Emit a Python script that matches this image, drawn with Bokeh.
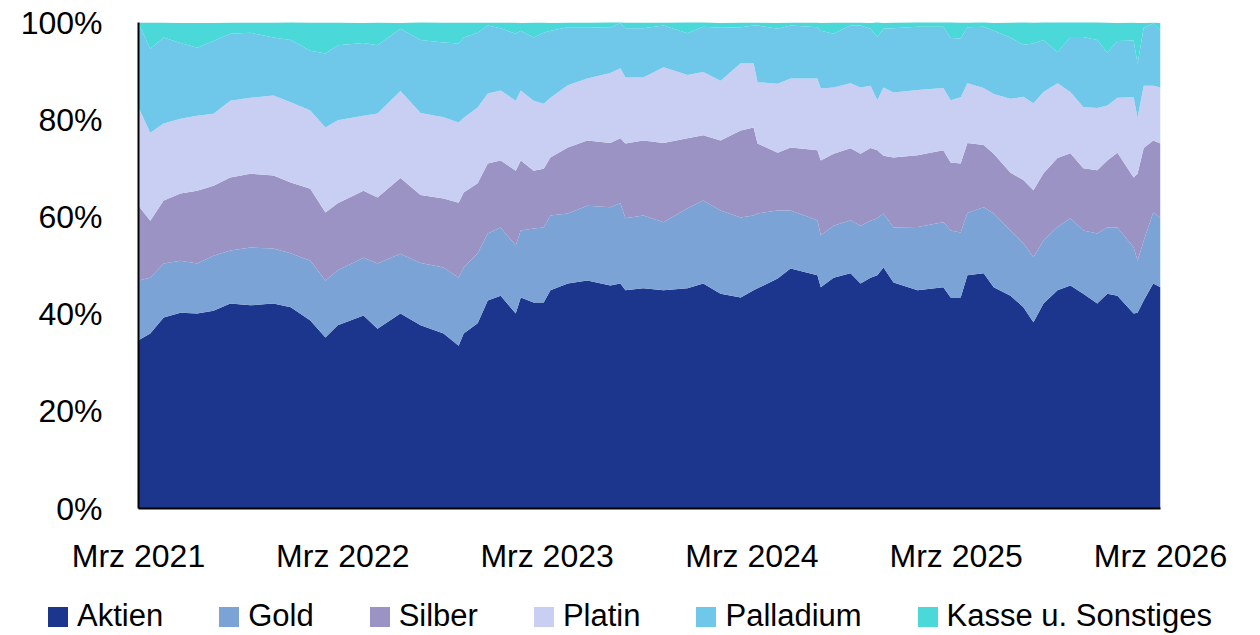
import pandas as pd
from bokeh.plotting import figure
from bokeh.models import (ColumnDataSource, Range1d, FixedTicker, Legend, LegendItem,
                          PrintfTickFormatter)
from bokeh.embed import file_html
from bokeh.resources import INLINE

# ---------------- data (shares in %) ----------------
dates = ["2021-03-01", "2021-03-22", "2021-04-15", "2021-05-15", "2021-06-14", "2021-07-13",
         "2021-08-12", "2021-09-17", "2021-10-28", "2021-11-28", "2022-01-02", "2022-01-29",
         "2022-02-20", "2022-04-07", "2022-05-02", "2022-06-12", "2022-07-18", "2022-08-28",
         "2022-09-24", "2022-10-03", "2022-10-28", "2022-11-15", "2022-12-08", "2023-01-04",
         "2023-01-13", "2023-02-05", "2023-02-23", "2023-03-07", "2023-04-07", "2023-05-12",
         "2023-06-22", "2023-07-10", "2023-07-19", "2023-08-20", "2023-09-25", "2023-11-07",
         "2023-12-05", "2024-01-05", "2024-02-10", "2024-03-04", "2024-03-11", "2024-04-16",
         "2024-05-09", "2024-06-26", "2024-07-02", "2024-07-25", "2024-08-24", "2024-09-11",
         "2024-09-29", "2024-10-11", "2024-10-22", "2024-11-09", "2024-12-22", "2025-02-06",
         "2025-02-19", "2025-03-09", "2025-03-21", "2025-04-19", "2025-05-07", "2025-06-06",
         "2025-06-29", "2025-07-17", "2025-08-04", "2025-08-29", "2025-09-21", "2025-10-14",
         "2025-11-08", "2025-11-26", "2025-12-14", "2026-01-12", "2026-01-19", "2026-01-30",
         "2026-02-16", "2026-03-01"]

aktien = [34.6, 36.0, 39.3, 40.3, 40.1, 40.7, 42.2, 41.8, 42.2, 41.4,
          38.7, 35.2, 37.7, 39.7, 37.0, 40.1, 37.7, 36.0, 33.5, 36.0,
          38.1, 42.8, 43.8, 40.1, 43.4, 42.4, 42.4, 44.9, 46.3, 46.9,
          45.9, 46.3, 44.9, 45.3, 44.9, 45.3, 46.3, 44.2, 43.4, 44.9,
          45.3, 47.3, 49.4, 48.0, 45.5, 47.5, 48.4, 46.3, 47.5, 48.0,
          49.6, 46.5, 44.9, 45.5, 43.4, 43.4, 48.0, 48.4, 45.5, 43.8,
          41.4, 38.3, 42.2, 44.9, 45.9, 44.2, 42.2, 44.2, 43.8, 40.1,
          40.3, 42.8, 46.3, 45.5]

gold = [12.3, 11.5, 11.1, 10.7, 10.3, 11.3, 10.9, 11.9, 11.3, 11.1,
        12.3, 11.7, 11.3, 11.9, 13.4, 12.3, 12.8, 13.6, 14.0, 13.6,
        14.4, 13.8, 14.0, 14.0, 13.8, 15.2, 15.4, 15.4, 14.4, 15.4,
        16.1, 16.5, 14.8, 15.0, 14.0, 16.5, 17.1, 17.1, 16.5, 15.4,
        15.4, 14.0, 11.9, 11.3, 10.7, 10.7, 10.9, 11.9, 11.7, 11.7,
        11.1, 11.3, 13.0, 13.4, 13.8, 13.4, 12.8, 13.6, 15.2, 13.4,
        13.2, 13.4, 13.0, 13.0, 13.8, 13.0, 14.4, 13.6, 14.0, 13.6,
        10.7, 12.3, 14.6, 14.2]

silber = [15.4, 11.7, 13.0, 13.8, 15.0, 14.4, 15.0, 15.2, 15.0, 14.6,
          14.8, 14.0, 13.8, 13.8, 13.6, 15.6, 14.0, 14.2, 15.4, 15.4,
          14.4, 14.4, 13.8, 15.4, 14.4, 11.9, 12.1, 11.9, 13.6, 13.4,
          13.2, 13.4, 15.4, 15.4, 16.3, 14.4, 13.4, 14.4, 17.9, 18.1,
          14.4, 11.9, 13.0, 14.4, 15.4, 14.8, 14.8, 14.8, 15.0, 14.0,
          11.9, 14.4, 14.8, 14.8, 14.0, 14.2, 14.4, 12.8, 12.3, 11.9,
          13.0, 13.8, 13.8, 14.2, 13.4, 12.8, 13.0, 13.8, 15.4, 14.4,
          17.9, 19.1, 14.8, 15.4]

platin = [20.2, 18.1, 15.8, 15.4, 15.4, 14.8, 15.8, 15.6, 16.5, 16.5,
          16.1, 17.5, 17.1, 15.4, 17.3, 17.9, 16.9, 16.7, 16.5, 15.4,
          15.6, 14.4, 14.4, 14.4, 14.4, 14.4, 13.4, 12.3, 12.8, 12.8,
          14.4, 14.4, 13.6, 13.0, 15.6, 13.0, 13.0, 12.3, 13.8, 13.2,
          12.6, 14.2, 14.2, 14.8, 14.8, 13.6, 13.4, 13.6, 12.8, 10.3,
          14.0, 13.4, 13.4, 12.8, 12.8, 13.6, 12.3, 11.7, 12.3, 15.2,
          17.1, 17.9, 16.7, 15.4, 12.6, 12.6, 12.8, 11.3, 11.3, 16.5,
          11.5, 12.8, 11.3, 11.5]

palladium = [17.3, 17.3, 17.7, 15.6, 14.0, 15.0, 13.8, 13.4, 11.9, 12.8,
             12.3, 15.2, 15.4, 15.0, 14.0, 12.8, 15.0, 15.4, 16.3, 16.5,
             15.4, 14.0, 12.8, 13.8, 12.3, 13.0, 14.6, 13.8, 11.9, 10.5,
             9.3, 9.3, 10.1, 10.1, 8.6, 8.6, 9.3, 10.9, 7.4, 7.8,
             11.7, 11.3, 10.9, 10.5, 11.9, 11.1, 11.9, 12.8, 11.7, 13.0,
             12.1, 13.2, 13.0, 12.6, 12.8, 12.1, 11.5, 12.6, 13.0, 12.6,
             10.7, 12.3, 10.7, 6.4, 11.3, 14.4, 14.0, 10.9, 11.7, 11.7,
             11.1, 11.9, 12.8, 11.7]

kasse = [0.2, 5.4, 3.1, 4.1, 5.1, 3.7, 2.3, 2.1, 3.1, 3.7,
         5.8, 6.4, 4.7, 4.1, 4.7, 1.2, 3.7, 4.1, 4.3, 3.1,
         2.1, 0.6, 1.2, 2.3, 1.6, 3.1, 2.1, 1.6, 1.0, 1.0,
         1.2, 0.2, 1.2, 1.2, 0.6, 2.3, 1.0, 1.0, 1.0, 0.6,
         0.6, 1.2, 0.6, 1.0, 1.6, 2.3, 0.6, 0.6, 1.2, 3.1,
         1.2, 1.2, 1.0, 1.0, 3.3, 3.3, 1.0, 1.0, 1.6, 3.1,
         4.7, 4.3, 3.7, 6.2, 3.1, 3.1, 3.7, 6.2, 3.7, 3.7,
         8.4, 1.0, 0.2, 1.6]

series_labels = ["Aktien", "Gold", "Silber", "Platin", "Palladium", "Kasse u. Sonstiges"]
series_keys = ["aktien", "gold", "silber", "platin", "palladium", "kasse"]
colors = ["#1c368e", "#7ba3d6", "#9b93c4", "#c8cff3", "#6fc8ea", "#4ad8d8"]

tick_dates = ["2021-03-01", "2022-03-01", "2023-03-01", "2024-03-01", "2025-03-01", "2026-03-01"]
tick_labels = ["Mrz 2021", "Mrz 2022", "Mrz 2023", "Mrz 2024", "Mrz 2025", "Mrz 2026"]
y_ticks = [0, 20, 40, 60, 80, 100]

# ---------------- build ----------------
source = ColumnDataSource(data=dict(
    date=pd.to_datetime(dates),
    aktien=aktien, gold=gold, silber=silber, platin=platin,
    palladium=palladium, kasse=kasse,
))


def ms(d):
    return int(pd.Timestamp(d).value // 10**6)


x_start, x_end = ms(tick_dates[0]), ms(tick_dates[-1])

FONT = "Liberation Sans"

p = figure(width=1240, height=585, x_axis_type="datetime",
           x_range=Range1d(x_start, x_end), y_range=Range1d(0, 100),
           output_backend="svg", toolbar_location=None,
           min_border_left=138, min_border_right=80,
           min_border_top=22, min_border_bottom=77)

renderers = p.varea_stack(stackers=series_keys, x="date", color=colors, source=source)

p.xgrid.visible = False
p.ygrid.visible = False
p.outline_line_color = None
p.background_fill_color = "white"
p.border_fill_color = "white"

tick_ms = [ms(d) for d in tick_dates]
p.xaxis.ticker = FixedTicker(ticks=tick_ms)
p.xaxis.major_label_overrides = {t: lab for t, lab in zip(tick_ms, tick_labels)}
p.yaxis.ticker = FixedTicker(ticks=y_ticks)
p.yaxis.formatter = PrintfTickFormatter(format="%d%%")

for ax in (p.xaxis, p.yaxis):
    ax.axis_line_color = "black"
    ax.axis_line_width = 2
    ax.major_tick_line_color = None
    ax.minor_tick_line_color = None
    ax.major_tick_out = 0
    ax.major_tick_in = 0
    ax.major_label_text_font = FONT
    ax.major_label_text_font_size = "32px"
    ax.major_label_text_color = "black"

p.xaxis.major_label_standoff = 29
p.yaxis.major_label_standoff = 36

# ---------------- legend (separate strip below the chart) ----------------
lg = figure(width=1240, height=50, x_range=Range1d(0, 1), y_range=Range1d(0, 1),
            output_backend="svg", toolbar_location=None,
            min_border_left=0, min_border_right=0, min_border_top=0, min_border_bottom=0)
lg.axis.visible = False
lg.xgrid.visible = False
lg.ygrid.visible = False
lg.outline_line_color = None
lg.background_fill_color = "white"
lg.border_fill_color = "white"

# swatch renderers for the legend: filled areas lying outside the visible range
swatch_src = ColumnDataSource(data=dict(x=[2, 3], y1=[2, 2], y2=[3, 3]))
swatches = [lg.varea(x="x", y1="y1", y2="y2", fill_color=c, source=swatch_src) for c in colors]

items = [LegendItem(label=lab, renderers=[r]) for lab, r in zip(series_labels, swatches)]
legend = Legend(items=items, orientation="horizontal", location=(45, 1),
                glyph_width=25, glyph_height=25, label_standoff=7, spacing=53,
                padding=0, margin=0, border_line_color=None,
                background_fill_alpha=0,
                label_text_font=FONT, label_text_font_size="31px",
                label_text_color="black")
lg.add_layout(legend, "center")

open("out.html", "w").write(file_html([p, lg], INLINE))
